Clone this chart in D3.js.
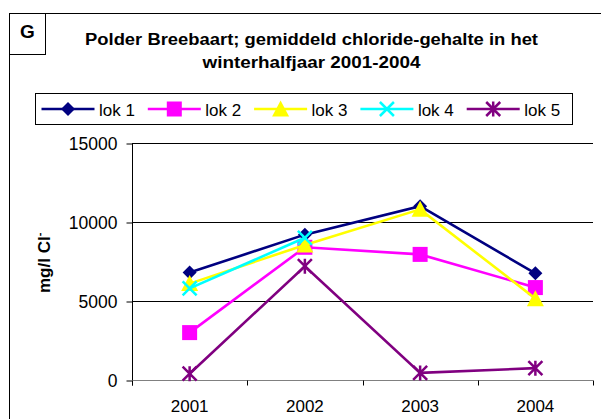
<!DOCTYPE html>
<html>
<head>
<meta charset="utf-8">
<script src="https://cdn.jsdelivr.net/npm/d3@7"></script>
<style>
  html, body { margin: 0; padding: 0; background: #fff; }
  svg { display: block; font-family: "Liberation Sans", Arial, sans-serif; }
</style>
</head>
<body>
<svg id="chart" width="601" height="419"></svg>
<script>
// Winter-half-year chloride averages per monitoring location
const years = ["2001", "2002", "2003", "2004"];
const lok1 = [6800, 9200, 11000, 6750];
const lok2 = [3000, 8400, 7950, 5850];
const lok3 = [6100, 8550, 10800, 5150];
const lok4 = [5800, 9000, null, null];
const lok5 = [400, 7200, 450, 750];
const yTicks = [0, 5000, 10000, 15000];

const seriesNames = ["lok 1", "lok 2", "lok 3", "lok 4", "lok 5"];
const seriesValues = [lok1, lok2, lok3, lok4, lok5];
const seriesColors = ["#000080", "#ff00ff", "#ffff00", "#00ffff", "#800080"];
const seriesShapes = ["diamond", "square", "triangle", "x", "star"];

const FONT = "Liberation Sans, Arial, sans-serif";
const svg = d3.select("#chart");

const plot = { left: 132, right: 593, top: 143, bottom: 380 };

const x = d3.scaleBand().domain(years).range([plot.left, plot.right]);
const y = d3.scaleLinear().domain([0, 15000]).range([plot.bottom, plot.top]);

// outer chart frame and panel letter
svg.append("rect").attr("x", 9.5).attr("y", 13.5).attr("width", 620).attr("height", 420)
  .attr("fill", "none").attr("stroke", "#000").attr("stroke-width", 1);
svg.append("rect").attr("x", 9.5).attr("y", 13.5).attr("width", 36).attr("height", 41)
  .attr("fill", "#fff").attr("stroke", "#000").attr("stroke-width", 1);
svg.append("text").attr("x", 27.5).attr("y", 38).attr("text-anchor", "middle")
  .attr("font-size", 19).attr("font-weight", "bold").text("G");

// title
const title = svg.append("text").attr("text-anchor", "middle")
  .attr("font-size", 17.2).attr("font-weight", "bold");
title.append("tspan").attr("x", 311.5).attr("y", 44.5)
  .attr("textLength", 453).attr("lengthAdjust", "spacingAndGlyphs")
  .text("Polder Breebaart; gemiddeld chloride-gehalte in het");
title.append("tspan").attr("x", 311.5).attr("y", 68)
  .attr("textLength", 218).attr("lengthAdjust", "spacingAndGlyphs")
  .text("winterhalfjaar 2001-2004");

// gridlines
svg.append("g").selectAll("line").data(yTicks.filter(d => d > 0)).join("line")
  .attr("x1", plot.left).attr("x2", plot.right)
  .attr("y1", d => Math.round(y(d)) + 0.5).attr("y2", d => Math.round(y(d)) + 0.5)
  .attr("stroke", "#000").attr("stroke-width", 1);

// y axis
const yAxis = svg.append("g").attr("transform", `translate(${plot.left + 0.5},0.5)`)
  .call(d3.axisLeft(y).tickValues(yTicks).tickSize(6).tickPadding(9).tickFormat(d3.format("d")));
yAxis.select(".domain").attr("stroke", "#000").attr("d", `M0,${plot.top}V${plot.bottom + 5}`);
yAxis.selectAll("text").attr("font-size", 17.5).attr("fill", "#000").attr("font-family", FONT);
yAxis.selectAll(".tick line").attr("stroke", "#000");

// x axis
const xAxis = svg.append("g").attr("transform", `translate(0,${plot.bottom + 0.5})`)
  .call(d3.axisBottom(x).tickSize(0).tickPadding(19.5));
xAxis.select(".domain").attr("stroke", "#808080").attr("d", `M${plot.left},0H${plot.right}`);
xAxis.selectAll("text").attr("font-size", 17).attr("fill", "#000").attr("font-family", FONT);
// category boundary ticks
const boundaries = years.map(d => x(d)).concat([x(years[years.length - 1]) + x.bandwidth()]);
xAxis.append("g").selectAll("line").data(boundaries).join("line")
  .attr("x1", d => Math.round(d) + 0.5).attr("x2", d => Math.round(d) + 0.5)
  .attr("y1", 0).attr("y2", 5).attr("stroke", "#000");

// y axis title
const yt = svg.append("text")
  .attr("transform", "translate(50,293) rotate(-90)")
  .attr("text-anchor", "start").attr("font-size", 17).attr("font-weight", "bold");
yt.append("tspan").text("mg/l Cl");
yt.append("tspan").attr("dy", -7).attr("font-size", 11).text("-");

// marker drawing
function drawMarker(g, shape, color, cx, cy) {
  if (shape === "diamond") {
    const r = 7;
    g.append("path").attr("d", `M${cx},${cy - r}L${cx + r},${cy}L${cx},${cy + r}L${cx - r},${cy}Z`)
      .attr("fill", color);
  } else if (shape === "square") {
    const r = 7.5;
    g.append("rect").attr("x", cx - r).attr("y", cy - r).attr("width", 2 * r).attr("height", 2 * r)
      .attr("fill", color);
  } else if (shape === "triangle") {
    g.append("path").attr("d", `M${cx},${cy - 8.5}L${cx + 8.5},${cy + 7.5}L${cx - 8.5},${cy + 7.5}Z`)
      .attr("fill", color);
  } else if (shape === "x") {
    const r = 7;
    g.append("path").attr("d", `M${cx - r},${cy - r}L${cx + r},${cy + r}M${cx - r},${cy + r}L${cx + r},${cy - r}`)
      .attr("stroke", color).attr("stroke-width", 2.5).attr("fill", "none");
  } else if (shape === "star") {
    const r = 7;
    g.append("path").attr("d",
      `M${cx - r},${cy - r}L${cx + r},${cy + r}M${cx - r},${cy + r}L${cx + r},${cy - r}M${cx},${cy - r - 0.5}V${cy + r + 0.5}`)
      .attr("stroke", color).attr("stroke-width", 2.5).attr("fill", "none");
  }
}

// series lines and markers
const line = d3.line()
  .defined(d => d.v != null)
  .x(d => x(d.year) + x.bandwidth() / 2)
  .y(d => y(d.v));

seriesValues.forEach((vals, i) => {
  const pts = years.map((yr, j) => ({ year: yr, v: vals[j] }));
  const g = svg.append("g");
  g.append("path").datum(pts).attr("d", line)
    .attr("fill", "none").attr("stroke", seriesColors[i]).attr("stroke-width", 2.6);
  pts.filter(p => p.v != null).forEach(p => {
    drawMarker(g, seriesShapes[i], seriesColors[i], x(p.year) + x.bandwidth() / 2, y(p.v));
  });
});

// legend
svg.append("rect").attr("x", 35.5).attr("y", 93.5).attr("width", 537).attr("height", 31)
  .attr("fill", "#fff").attr("stroke", "#000").attr("stroke-width", 1);
seriesNames.forEach((name, i) => {
  const x0 = 41.5 + i * 106.3;
  const g = svg.append("g");
  g.append("line").attr("x1", x0).attr("x2", x0 + 53).attr("y1", 109).attr("y2", 109)
    .attr("stroke", seriesColors[i]).attr("stroke-width", 2.6);
  drawMarker(g, seriesShapes[i], seriesColors[i], x0 + 26.5, 109);
  g.append("text").attr("x", x0 + 57.5).attr("y", 115.5).attr("font-size", 17).text(name);
});
</script>
</body>
</html>
